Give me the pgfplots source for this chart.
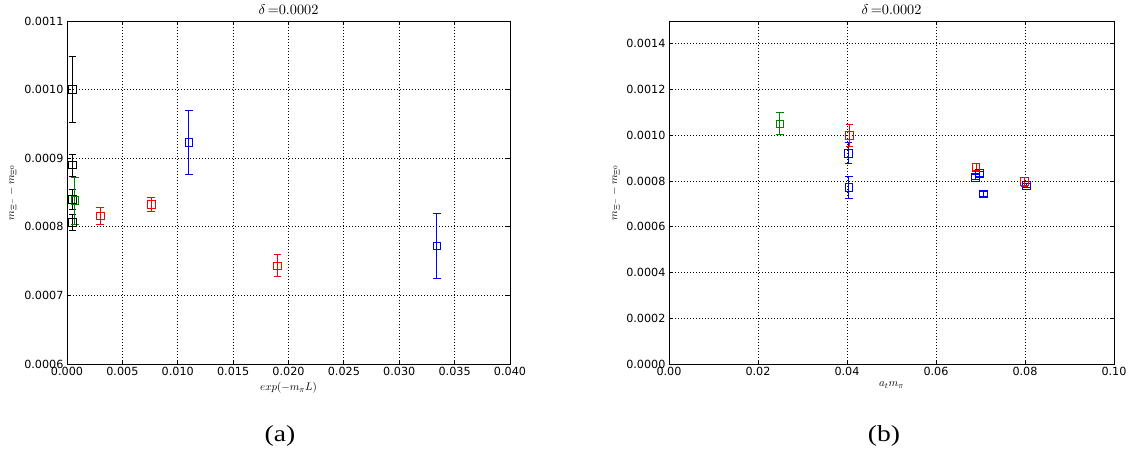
\documentclass[border=0pt]{standalone}
\usepackage{graphicx}
\usepackage{pgfplots}
\pgfplotsset{compat=1.18}
\usepackage[no-math]{fontspec}
\setmainfont{Liberation Serif}
\newfontfamily\dejavu{DejaVu Sans}

\newcommand{\ttl}{\resizebox{60pt}{!}{$\delta\,{=}0.0002$}}
\pgfplotsset{
  myax/.style={
    scale only axis, width=443pt, height=343pt, anchor=south west,
    grid=major,
    grid style={black, line width=0.8pt, dash pattern=on 0.8pt off 2.2pt},
    axis line style={line width=0.9pt},
    major tick length=4pt,
    tick style={black, line width=0.8pt},
    tick align=inside,
    tick label style={font=\dejavu\fontsize{11.2}{13}\selectfont},
    /pgf/number format/assume math mode=true,
    scaled x ticks=false, scaled y ticks=false,
    title style={at={(axis description cs:0.5,1.0145)}, anchor=center, inner sep=0pt},
    label style={font=\fontsize{10.95}{13}\selectfont},
    ylabel style={at={(axis description cs:-0.124,0.5)}, anchor=center, rotate=0},
    xlabel style={at={(axis description cs:0.5,-0.07)}, anchor=center},
    yticklabel style={/pgf/number format/.cd, fixed, fixed zerofill, precision=4},
    title={\ttl},
    ylabel={$m_{\Xi^-}-m_{\Xi^0}$},
  },
  pts/.style={only marks, color=#1, mark=square, mark size=3.8pt,
    mark options={line width=0.9pt, draw=#1, fill=none},
    error bars/.cd, y dir=both, y explicit,
    error bar style={line width=0.9pt, color=#1},
    error mark options={rotate=90, mark size=3.8pt, line width=0.9pt, color=#1}},
}
\definecolor{mgreen}{rgb}{0,0.5,0}

\begin{document}
\begin{tikzpicture}
\useasboundingbox (0,0) rectangle (1137pt,457pt);

\begin{axis}[myax, at={(67pt,93pt)},
  xmin=0, xmax=0.04, ymin=0.0006, ymax=0.0011,
  xtick={0,0.005,0.01,0.015,0.02,0.025,0.03,0.035,0.04},
  ytick={0.0006,0.0007,0.0008,0.0009,0.001,0.0011},
  xticklabel style={/pgf/number format/.cd, fixed, fixed zerofill, precision=3},
  xlabel={$exp(-m_\pi L)$},
]
\addplot[pts=black] coordinates {
  (0.0005,0.001000) +- (0,0.000048)
  (0.0005,0.000890) +- (0,0.000016)
  (0.0005,0.000840) +- (0,0.000015)
  (0.0005,0.000806) +- (0,0.000012)
};
\addplot[pts=mgreen] coordinates {
  (0.0007,0.000838) +- (0,0.000034)
};
\addplot[pts=red] coordinates {
  (0.0030,0.000816) +- (0,0.000012)
  (0.0076,0.000833) +- (0,0.000010)
  (0.0190,0.000743) +- (0,0.000016)
};
\addplot[pts=blue] coordinates {
  (0.0110,0.000923) +- (0,0.000046)
  (0.0334,0.000772) +- (0,0.000048)
};
\end{axis}

\begin{axis}[myax, at={(669pt,93pt)}, width=445pt,
  xmin=0, xmax=0.1, ymin=0, ymax=0.0015,
  xtick={0,0.02,0.04,0.06,0.08,0.1},
  ytick={0,0.0002,0.0004,0.0006,0.0008,0.001,0.0012,0.0014},
  xticklabel style={/pgf/number format/.cd, fixed, fixed zerofill, precision=2},
  ylabel style={at={(axis description cs:-0.121,0.5)}},
  xlabel style={at={(axis description cs:0.5,-0.061)}},
  xlabel={$a_t m_\pi$},
]
\addplot[pts=mgreen] coordinates {
  (0.0249,0.001050) +- (0,0.000048)
};
\addplot[pts=blue] coordinates {
  (0.0403,0.000922) +- (0,0.000047)
  (0.0404,0.000771) +- (0,0.000047)
  (0.0688,0.000817) +- (0,0.000010)
  (0.0697,0.000832) +- (0,0.000010)
  (0.0706,0.000743) +- (0,0.000010)
  (0.0803,0.000781) +- (0,0.000010)
};
\addplot[pts=red] coordinates {
  (0.0406,0.001000) +- (0,0.000048)
  (0.0690,0.000861) +- (0,0.000018)
  (0.0799,0.000797) +- (0,0.000020)
};
\end{axis}

\node[font=\fontsize{23}{27}\selectfont, xscale=1.2] at (280pt,21pt) {(a)};
\node[font=\fontsize{23}{27}\selectfont, xscale=1.2] at (884pt,21pt) {(b)};
\end{tikzpicture}
\end{document}
